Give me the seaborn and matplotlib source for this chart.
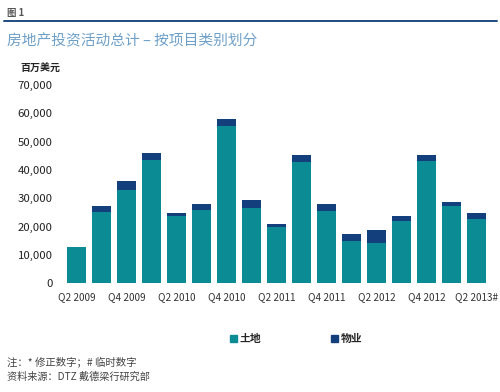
import pandas as pd
import numpy as np
import matplotlib.pyplot as plt
import seaborn as sns
from matplotlib.lines import Line2D
from matplotlib.patches import Patch

# quarters Q2 2009 .. Q2 2013 (provisional)
quarters = ['Q2 2009', 'Q3 2009', 'Q4 2009', 'Q1 2010', 'Q2 2010', 'Q3 2010',
            'Q4 2010', 'Q1 2011', 'Q2 2011', 'Q3 2011', 'Q4 2011', 'Q1 2012',
            'Q2 2012', 'Q3 2012', 'Q4 2012', 'Q1 2013', 'Q2 2013#']
land = [12700, 25300, 32900, 43400, 23900, 25900, 55500, 26700, 19900,
        42700, 25600, 14900, 14300, 22100, 43200, 27200, 22800]
prop = [200, 2100, 3100, 2600, 1100, 2100, 2600, 2900, 1000,
        2500, 2400, 2600, 4500, 1800, 2000, 1400, 2200]
shown_labels = ['Q2 2009', 'Q4 2009', 'Q2 2010', 'Q4 2010', 'Q2 2011',
                'Q4 2011', 'Q2 2012', 'Q4 2012', 'Q2 2013#']

teal = '#0b8b94'
navy = '#133f7d'

df = pd.DataFrame({'q': quarters, 'land': land, 'prop': prop})
df['total'] = df['land'] + df['prop']

sns.set_style('white')
plt.rcParams['font.family'] = ['Noto Sans CJK SC', 'DejaVu Sans']

fig = plt.figure(figsize=(5, 3.92), dpi=100)
ax = fig.add_axes([0.13, 0.277, 0.85, 0.506])

# stacked: draw totals first, land on top
sns.barplot(data=df, x='q', y='total', order=quarters, color=navy,
            width=0.76, saturation=1, linewidth=0, ax=ax)
sns.barplot(data=df, x='q', y='land', order=quarters, color=teal,
            width=0.76, saturation=1, linewidth=0, ax=ax)

ax.set_ylim(0, 70000)
ax.set_xlim(-0.46, 16.54)
ax.set_yticks(np.arange(0, 70001, 10000))
ax.set_yticklabels([f'{v:,}' for v in range(0, 70001, 10000)])
ticks = [quarters.index(q) for q in shown_labels]
ax.set_xticks(ticks)
ax.set_xticklabels(shown_labels)
ax.tick_params(axis='y', labelsize=8.2, colors='#222222', length=0, pad=9)
ax.tick_params(axis='x', labelsize=7.2, colors='#333333', length=0, pad=6)
ax.set_xlabel('')
ax.set_ylabel('')
sns.despine(ax=ax, left=True, bottom=True)

# header
fig.text(0.014, 0.966, '图 1', fontsize=6.8, fontweight='bold', color='#555555', va='center')
fig.add_artist(Line2D([0.008, 0.994], [0.947, 0.947], color='#1f4a80', lw=1.4))
fig.text(0.014, 0.896, '房地产投资活动总计 – 按项目类别划分', fontsize=10.6,
         color='#6fa0c8', va='center')
fig.text(0.04, 0.824, '百万美元', fontsize=7.2, fontweight='bold', color='#222222', va='center')

handles = [Patch(color=teal, label='土地'), Patch(color=navy, label='物业')]
fig.legend(handles=handles, loc='center left', bbox_to_anchor=(0.441, 0.135),
           ncol=2, frameon=False, handlelength=0.6, handleheight=0.6,
           handletextpad=0.3, columnspacing=6.4, prop={'weight': 'bold', 'size': 7.8})

fig.text(0.014, 0.077, '注：* 修正数字；# 临时数字', fontsize=7.5, color='#444444', va='center')
fig.text(0.014, 0.039, '资料来源：DTZ 戴德梁行研究部', fontsize=7.3, color='#444444', va='center')

plt.savefig('out.png', dpi=100)
plt.close()
